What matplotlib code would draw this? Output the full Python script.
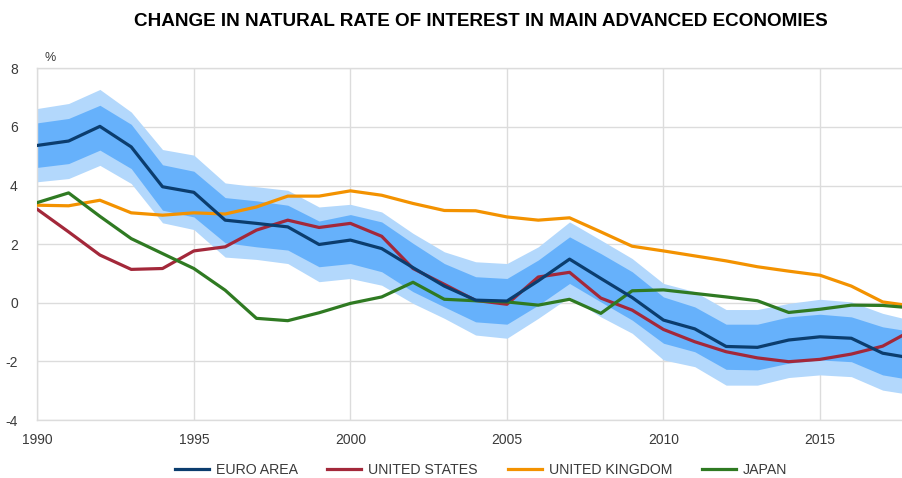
import matplotlib
matplotlib.use("Agg")
import matplotlib.pyplot as plt
import numpy as np

plt.rcParams['font.family'] = ['Liberation Sans', 'DejaVu Sans']
plt.rcParams['axes.unicode_minus'] = False

years = list(range(1990, 2019))
euro = [5.37, 5.52, 6.02, 5.32, 3.96, 3.77, 2.82, 2.71, 2.59, 1.99, 2.14, 1.85, 1.20, 0.57, 0.09,
        0.06, 0.75, 1.49, 0.83, 0.18, -0.59, -0.89, -1.49, -1.52, -1.27, -1.16, -1.21, -1.72, -1.90]
euro_outer_hi = [6.63, 6.80, 7.28, 6.51, 5.23, 5.04, 4.09, 3.96, 3.84, 3.27, 3.36, 3.10, 2.37, 1.74, 1.40,
                 1.34, 1.91, 2.76, 2.14, 1.51, 0.66, 0.38, -0.23, -0.23, -0.02, 0.12, 0.03, -0.36, -0.62]
euro_inner_hi = [6.14, 6.29, 6.74, 6.09, 4.71, 4.49, 3.59, 3.48, 3.33, 2.79, 3.01, 2.76, 2.03, 1.34, 0.89,
                 0.83, 1.46, 2.25, 1.68, 1.06, 0.20, -0.14, -0.73, -0.73, -0.48, -0.39, -0.48, -0.82, -0.99]
euro_inner_lo = [4.62, 4.75, 5.21, 4.58, 3.16, 2.93, 2.05, 1.91, 1.80, 1.23, 1.34, 1.06, 0.38, -0.14, -0.65,
                 -0.73, -0.08, 0.66, 0.03, -0.59, -1.38, -1.67, -2.27, -2.29, -2.06, -1.95, -2.01, -2.46, -2.64]
euro_outer_lo = [4.13, 4.24, 4.69, 4.07, 2.73, 2.50, 1.56, 1.48, 1.34, 0.72, 0.83, 0.60, -0.02, -0.53, -1.10,
                 -1.21, -0.53, 0.20, -0.48, -1.04, -1.95, -2.18, -2.81, -2.81, -2.55, -2.46, -2.52, -2.98, -3.15]
us = [3.19, 2.42, 1.63, 1.14, 1.17, 1.77, 1.91, 2.48, 2.82, 2.57, 2.71, 2.27, 1.17, 0.63, 0.08,
      -0.05, 0.88, 1.04, 0.16, -0.25, -0.91, -1.33, -1.67, -1.88, -2.01, -1.93, -1.75, -1.48, -0.90]
uk = [3.33, 3.31, 3.50, 3.07, 2.99, 3.07, 3.03, 3.27, 3.64, 3.64, 3.82, 3.67, 3.39, 3.15, 3.14,
      2.93, 2.82, 2.90, 2.42, 1.93, 1.77, 1.60, 1.43, 1.23, 1.08, 0.94, 0.57, 0.03, -0.12]
japan = [3.42, 3.75, 2.95, 2.19, 1.68, 1.17, 0.43, -0.53, -0.61, -0.34, -0.02, 0.20, 0.70, 0.12, 0.07,
         0.03, -0.08, 0.12, -0.36, 0.41, 0.44, 0.32, 0.20, 0.07, -0.33, -0.22, -0.08, -0.09, -0.18]

labels = ["EURO AREA", "UNITED STATES", "UNITED KINGDOM", "JAPAN"]
title = "CHANGE IN NATURAL RATE OF INTEREST IN MAIN ADVANCED ECONOMIES"
xticks = [1990, 1995, 2000, 2005, 2010, 2015]
yticks = [-4, -2, 0, 2, 4, 6, 8]

c_euro = "#0b3d6e"
c_us = "#a3283a"
c_uk = "#f39200"
c_jp = "#2f7a22"
c_outer = "#b3d8fc"
c_inner = "#66b1fb"
grid_c = "#dcdcdc"

fig = plt.figure(figsize=(9.03, 4.78), dpi=100)
ax = fig.add_axes([0.0413, 0.1213, 0.9587, 0.7357])

ax.fill_between(years, euro_outer_lo, euro_outer_hi, color=c_outer, lw=0, zorder=1)
ax.fill_between(years, euro_inner_lo, euro_inner_hi, color=c_inner, lw=0, zorder=2)

lw = 2.3
l1, = ax.plot(years, euro, color=c_euro, lw=lw, zorder=5)
l2, = ax.plot(years, us, color=c_us, lw=lw, zorder=4)
l3, = ax.plot(years, uk, color=c_uk, lw=lw, zorder=4)
l4, = ax.plot(years, japan, color=c_jp, lw=lw, zorder=4)

ax.set_xlim(1990, 2017.65)
ax.set_ylim(-4, 8)
ax.set_xticks(xticks)
ax.set_yticks(yticks)
ax.grid(True, color=grid_c, lw=1, zorder=0)
ax.set_axisbelow(True)
for s in ['left', 'top', 'bottom']:
    ax.spines[s].set_color(grid_c)
    ax.spines[s].set_linewidth(1)
ax.spines['right'].set_visible(False)
ax.tick_params(axis='both', length=0, labelsize=10, labelcolor="#3a3a3a")
ax.tick_params(axis='y', pad=14)
ax.tick_params(axis='x', pad=9)

fig.text(45 / 903, 1 - 58 / 478, "%", fontsize=9, color="#3a3a3a", ha='left', va='center')
fig.text(481 / 903, 1 - 22 / 478, title, fontsize=13.6, fontweight='bold', color="#000000",
         ha='center', va='center')

fig.legend([l1, l2, l3, l4], labels, loc='center', bbox_to_anchor=(481 / 903, 1 - 470 / 478),
           ncol=4, frameon=False, fontsize=10.2, handlelength=2.4, handletextpad=0.5,
           columnspacing=2.1, labelcolor="#3a3a3a")

fig.savefig("out.png", dpi=100)
